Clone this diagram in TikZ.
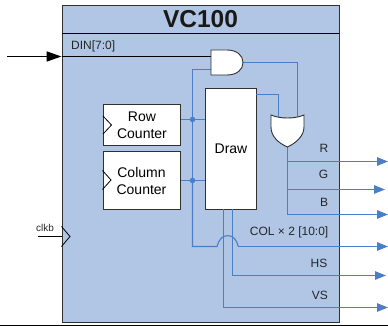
\documentclass[tikz,border=0pt]{standalone}
\usepackage{fontspec}
\setmainfont{Liberation Sans}
\usetikzlibrary{arrows.meta}
\definecolor{blockfill}{HTML}{B0C6E4}
\definecolor{wire}{HTML}{4A7EC6}
\definecolor{edgegray}{HTML}{303030}
\tikzset{
  outerblock/.style={draw=edgegray,fill=blockfill,line width=1pt,minimum width=277pt,minimum height=316.5pt,inner sep=0pt,anchor=north west},
  whitebox/.style={draw=edgegray,fill=white,line width=1pt,inner sep=0pt,anchor=north west,align=center,font=\fontsize{14}{17}\selectfont},
  gate/.style={draw=edgegray,fill=white,line width=0.9pt},
  wireline/.style={draw=wire,line width=1.1pt},
  wirearrow/.style={wireline,-{Triangle[length=11pt,width=8.5pt]}},
  junction/.style={circle,fill=wire,inner sep=0pt,minimum size=5.5pt},
  lab/.style={inner sep=0pt,font=\fontsize{12}{14}\selectfont,text=black!85},
  chevron/.style={draw=black,line width=0.8pt},
}
\begin{document}
\begin{tikzpicture}[x=1pt,y=-1pt]
\useasboundingbox (0,0) rectangle (388,326);
\fill[white] (0,0) rectangle (388,326);
% outer block
\node[outerblock] (vc) at (61.5,5.5) {};
\coordinate (titleL) at (61.5,33);
\coordinate (titleR) at (338.5,33);
\draw[line width=0.9pt,black] (titleL) -- (titleR);
\node[inner sep=0pt,font=\bfseries\fontsize{24.5}{28}\selectfont,text=black!90] (title) at (200.5,19.5) {VC100};
\node[lab,anchor=west] (din) at (71,46) {DIN[7:0]};
% bottom rule
\coordinate (ruleL) at (0,325.2);
\coordinate (ruleR) at (388,325.2);
\draw[line width=1.2pt,black] (ruleL) -- (ruleR);
% boxes
\node[whitebox,minimum width=77pt,minimum height=41pt] (row) at (103,104) {Row\\Counter};
\node[whitebox,minimum width=77pt,minimum height=58pt] (col) at (102.5,151) {Column\\Counter};
\node[whitebox,minimum width=51pt,minimum height=121pt] (draw) at (205,88) {Draw};
% chevrons
\draw[chevron] (103,116) -- (111.5,125) -- (103,134);
\draw[chevron] (102.5,170.5) -- (111,180) -- (102.5,189.5);
\draw[chevron,fill=none] (61.5,226.5) -- (70,236.5) -- (61.5,246.5);
% coordinates
\coordinate (andA) at (211,56.5);
\coordinate (andB) at (211,69.5);
\coordinate (andO) at (243,62.5);
\coordinate (orA) at (278.5,117.5);
\coordinate (orB) at (297.5,117);
\coordinate (orO) at (287.5,147);
\coordinate (dinS) at (7,56.5);
\coordinate (dinT) at (61.5,56.5);
\coordinate (clkS) at (38,236.5);
\coordinate (clkT) at (61.5,236.5);
\coordinate (drawO) at (256,94.5);
\coordinate (rowJ) at (192.5,119.5);
\coordinate (colJ) at (192.5,180.5);
\coordinate (Rout) at (388,161.5);
\coordinate (Gout) at (385,189.5);
\coordinate (Bout) at (388,214.5);
\coordinate (Cout) at (388,246.5);
\coordinate (Hout) at (386,275.5);
\coordinate (Vout) at (388,307.5);
\coordinate (drawH) at (232.5,208.5);
\coordinate (drawV) at (223.5,208.5);
% wires
\draw[wireline] (row.east |- rowJ) -- (draw.west |- rowJ);
\draw[wireline] (col.east |- colJ) -- (draw.west |- colJ);
\draw[wireline] (andB) -- (rowJ |- andB) -- (rowJ) -- (colJ);
\draw[wireline] (andO) -- (orB |- andO) -- (orB);
\draw[wireline] (drawO) -- (orA |- drawO) -- (orA);
\draw[wirearrow] (orO) |- (Bout);
\draw[wirearrow] (orO |- Rout) -- (Rout);
\draw[wirearrow] (orO |- Gout) -- (Gout);
\draw[wireline] (colJ) -- (192.5,246.5) -- (217,246.5) .. controls (219.5,238) and (223,235.7) .. (227.7,235.7) .. controls (232.4,235.7) and (236,238) .. (238.3,246.5);
\coordinate (humpE) at (238.3,246.5);
\draw[wirearrow] (humpE) -- (Cout);
\draw[wirearrow] (drawH) |- (Hout);
\draw[wirearrow] (drawV) |- (Vout);
\node[junction] (j1) at (rowJ) {};
\node[junction] (j2) at (colJ) {};
% black inputs
\draw[line width=1.7pt,black,-{Triangle[length=15pt,width=10pt]}] (dinS) -- (dinT);
\draw[line width=1.7pt,black] (dinT) -- (andA);
\draw[line width=0.9pt,black] (clkS) -- (clkT);
\node[lab,font=\fontsize{10}{12}\selectfont] (clk) at (45,227.5) {clkb};
% gates
\draw[gate] (211,50) -- (227,50) .. controls (237,50) and (243,55.5) .. (243,62.5) .. controls (243,69.5) and (237,75) .. (227,75) -- (211,75) -- cycle;
\draw[gate] (271,115) .. controls (280,119) and (295,119) .. (304,115) -- (304,127) .. controls (304,136) and (296,143) .. (287.5,147) .. controls (278,143) and (271,136) .. (271,127) -- cycle;
% labels
\node[lab,anchor=center] (R) at (324,148) {R};
\node[lab,anchor=center] (G) at (323.5,174) {G};
\node[lab,anchor=center] (B) at (324,202.5) {B};
\node[lab,anchor=east] (C) at (328.5,232) {COL × 2 [10:0]};
\node[lab,anchor=east] (H) at (327.5,263.5) {HS};
\node[lab,anchor=east] (V) at (328,295) {VS};
\end{tikzpicture}
\end{document}
